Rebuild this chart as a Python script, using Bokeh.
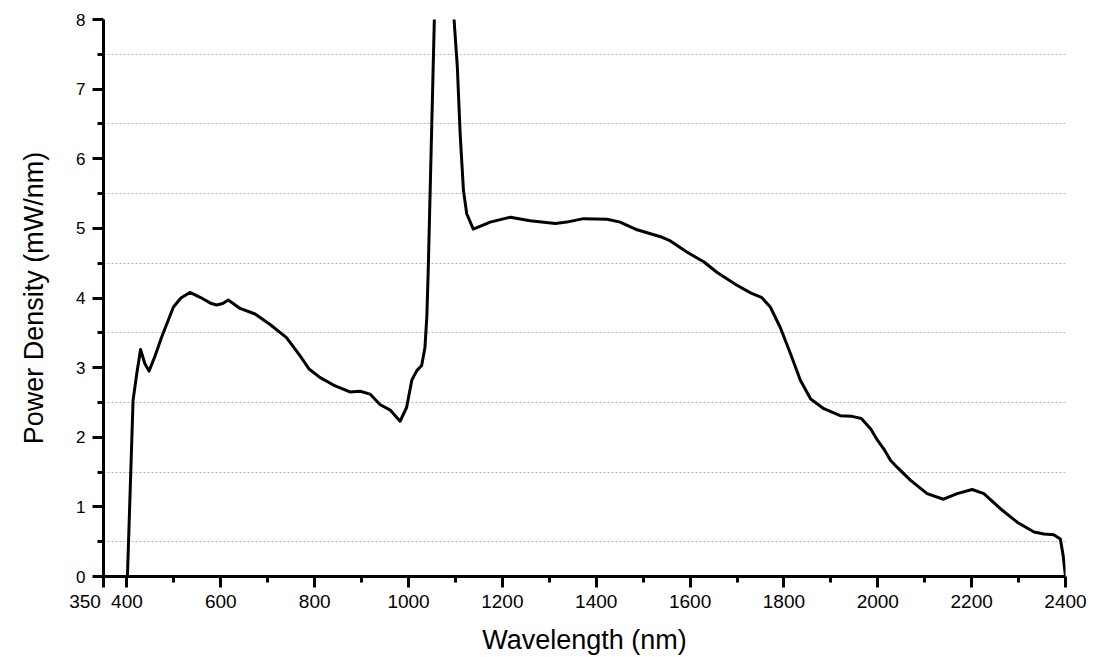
from bokeh.plotting import figure
from bokeh.models import FixedTicker, Range1d
from bokeh.embed import file_html
from bokeh.resources import INLINE

# Data
wavelength_nm = [401, 413, 421, 429, 438, 447, 460, 474, 499, 515, 534, 556, 580, 591, 604, 616,
                 641, 673, 705, 740, 769, 788, 811, 840, 875, 897, 918, 939, 961, 982, 996, 1007,
                 1018, 1028, 1035, 1039, 1042, 1055, 1065, 1075, 1085, 1097, 1104, 1110, 1117, 1124,
                 1138, 1174, 1217, 1259, 1313, 1337, 1373, 1423, 1451, 1487, 1537, 1558, 1593, 1629,
                 1657, 1698, 1730, 1752, 1771, 1792, 1814, 1835, 1857, 1885, 1920, 1945, 1965, 1985,
                 2000, 2013, 2027, 2041, 2070, 2105, 2140, 2169, 2201, 2226, 2262, 2297, 2333, 2354,
                 2375, 2389, 2395, 2400]
power_density = [0.0, 2.53, 2.92, 3.26, 3.06, 2.95, 3.17, 3.44, 3.87, 4.00, 4.08, 4.01, 3.92, 3.90, 3.92, 3.97,
                 3.85, 3.77, 3.62, 3.43, 3.17, 2.98, 2.86, 2.75, 2.65, 2.66, 2.62, 2.47, 2.39, 2.23, 2.43, 2.82,
                 2.96, 3.03, 3.29, 3.73, 4.40, 8.0, 9.8, 10.5, 9.8, 8.0, 7.32, 6.36, 5.55, 5.21,
                 4.99, 5.09, 5.16, 5.11, 5.07, 5.09, 5.14, 5.13, 5.09, 4.98, 4.88, 4.82, 4.66, 4.52,
                 4.37, 4.19, 4.07, 4.01, 3.87, 3.58, 3.20, 2.82, 2.55, 2.41, 2.31, 2.30, 2.27, 2.12,
                 1.95, 1.83, 1.67, 1.57, 1.38, 1.19, 1.11, 1.19, 1.25, 1.19, 0.97, 0.78, 0.64, 0.61,
                 0.60, 0.54, 0.30, 0.0]

x_major_ticks = [350, 400, 600, 800, 1000, 1200, 1400, 1600, 1800, 2000, 2200, 2400]
x_minor_ticks = [500, 700, 900, 1100, 1300, 1500, 1700, 1900, 2100, 2300]
y_major_ticks = [0, 1, 2, 3, 4, 5, 6, 7, 8]
y_minor_ticks = [0.5, 1.5, 2.5, 3.5, 4.5, 5.5, 6.5, 7.5]

FONT = "Liberation Sans"
NBSP = "\u00a0"

p = figure(width=1094, height=657, x_range=Range1d(350, 2400), y_range=Range1d(0, 8),
           output_backend="svg", toolbar_location=None,
           min_border_left=103, min_border_right=29, min_border_top=19, min_border_bottom=81)
p.outline_line_color = None
p.background_fill_color = "white"
p.border_fill_color = "white"

p.xgrid.visible = False
p.ygrid.ticker = FixedTicker(ticks=y_minor_ticks)
p.ygrid.grid_line_color = "#b4b4b4"
p.ygrid.grid_line_dash = "2 2"
p.ygrid.grid_line_width = 1

for ax in (p.xaxis[0], p.yaxis[0]):
    ax.axis_line_width = 3
    ax.axis_line_color = "black"
    ax.major_tick_line_width = 3
    ax.minor_tick_line_width = 3
    ax.major_tick_line_color = "black"
    ax.minor_tick_line_color = "black"
    ax.major_tick_in = 0
    ax.minor_tick_in = 0
    ax.major_tick_out = 11
    ax.minor_tick_out = 6
    ax.major_label_text_font = FONT
    ax.major_label_text_color = "black"
    ax.axis_label_text_font = FONT
    ax.axis_label_text_font_style = "normal"
    ax.axis_label_text_color = "black"
    ax.axis_label_text_font_size = "27px"

p.xaxis.ticker = FixedTicker(ticks=x_major_ticks, minor_ticks=x_minor_ticks)
p.yaxis.ticker = FixedTicker(ticks=y_major_ticks, minor_ticks=y_minor_ticks)
# the first label sits left of its position, as in the reference
p.xaxis.major_label_overrides = {350: "350" + NBSP * 7}
p.xaxis.major_label_text_font_size = "19px"
p.yaxis.major_label_text_font_size = "17px"
p.xaxis.major_label_standoff = 3
p.yaxis.major_label_standoff = 7
p.xaxis.axis_label = "Wavelength (nm)"
p.yaxis.axis_label = "Power Density (mW/nm)"
p.xaxis.axis_label_standoff = 10
p.yaxis.axis_label_standoff = 24

p.line(wavelength_nm, power_density, line_width=3, line_color="black", line_join="round")

open("out.html", "w").write(file_html(p, INLINE))
